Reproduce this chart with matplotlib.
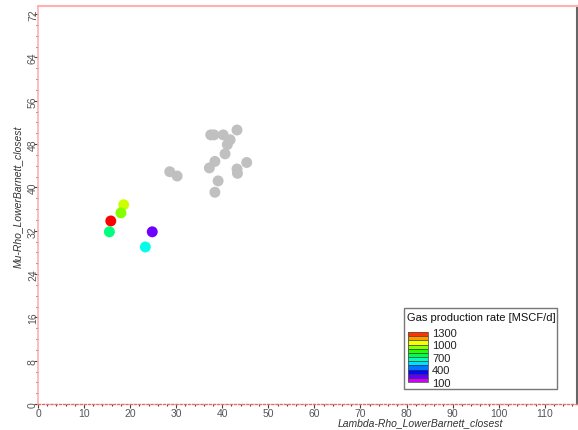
import numpy as np
import matplotlib
matplotlib.use("Agg")
import matplotlib.pyplot as plt
from matplotlib.colors import ListedColormap, Normalize, hsv_to_rgb
from matplotlib.ticker import MultipleLocator, AutoMinorLocator
from matplotlib.patches import Rectangle

plt.rcParams['font.family'] = ['Liberation Sans', 'DejaVu Sans']

# wells without production data (grey)
lam_grey = [28.6, 30.2, 37.5, 38.2, 40.2, 43.2, 41.7, 41.1, 40.6, 38.4, 37.2, 39.1, 38.4, 43.2, 43.3, 45.3]
mu_grey = [42.9, 42.1, 49.7, 49.7, 49.7, 50.6, 48.8, 47.9, 46.2, 44.8, 43.6, 41.2, 39.1, 43.4, 42.6, 44.6]

# wells with gas production rate
lam_prod = [18.6, 18.0, 15.8, 15.5, 24.8, 23.3]
mu_prod = [36.8, 35.3, 33.8, 31.8, 31.8, 29.0]
gas_rate = [1010, 940, 1300, 700, 240, 600]

bounds = np.arange(100, 1301, 100)
legend_ticks = [100, 400, 700, 1000, 1300]

# rainbow: magenta (low) -> red (high)
hues = np.linspace(300, 0, 256) / 360.0
rgb = hsv_to_rgb(np.column_stack([hues, np.ones(256), np.ones(256)]))
cmap = ListedColormap(rgb)
norm = Normalize(vmin=100, vmax=1300)

fig = plt.figure(figsize=(5.78, 4.31), dpi=100)
ax = fig.add_axes([38/578, 26/431, 539/578, 398/431])

ax.scatter(lam_grey, mu_grey, s=62, color='#c0c0c0', edgecolors='none', zorder=3)
ax.scatter(lam_prod, mu_prod, c=gas_rate, cmap=cmap, norm=norm, s=62, edgecolors='none', zorder=4)

ax.set_xlim(0, 117)
ax.set_ylim(0, 73.5)
ax.xaxis.set_major_locator(MultipleLocator(10))
ax.yaxis.set_major_locator(MultipleLocator(8))
ax.xaxis.set_minor_locator(AutoMinorLocator(5))
ax.yaxis.set_minor_locator(AutoMinorLocator(4))
ax.tick_params(which='major', direction='out', length=3, width=0.8, color='#444444',
               labelsize=7.5, labelcolor='#555555', pad=0)
ax.tick_params(axis='y', which='major', pad=-3)
ax.tick_params(which='minor', direction='out', length=1.5, width=0.8, color='#444444')
for lab in ax.get_yticklabels():
    lab.set_rotation(90)
    lab.set_va('center')

ax.spines['top'].set_color('#ffb0b0')
ax.spines['top'].set_linewidth(1.5)
ax.spines['left'].set_color('#ffb0b0')
ax.spines['left'].set_linewidth(1.2)
ax.spines['bottom'].set_color('#e07070')
ax.spines['bottom'].set_linestyle((0, (1.5, 1.5)))
ax.spines['bottom'].set_linewidth(1.0)
ax.spines['right'].set_color('#666666')
ax.spines['right'].set_linewidth(1.5)

fig.text(420/578, 3/431, 'Lambda-Rho_LowerBarnett_closest', fontsize=7.5, style='italic',
         color='#333333', ha='center', va='bottom')
fig.text(18/578, 1 - 197/431, 'Mu-Rho_LowerBarnett_closest', fontsize=7.5, style='italic',
         color='#333333', ha='center', va='center', rotation=90)

# legend box
fig.patches.append(Rectangle((404/578, 1 - 390/431), 153/578, 81/431, transform=fig.transFigure,
                             facecolor='white', edgecolor='#777777', linewidth=1.0, zorder=5))
fig.text(407/578, 1 - 318/431, 'Gas production rate [MSCF/d]', fontsize=8, color='#111111',
         ha='left', va='center', zorder=6)
cax = fig.add_axes([408/578, 1 - 383/431, 20/578, 50/431], zorder=7)
sm = plt.cm.ScalarMappable(cmap=cmap, norm=norm)
cb = fig.colorbar(sm, cax=cax, drawedges=True, boundaries=bounds, ticks=legend_ticks)
cb.outline.set_edgecolor('#555555')
cb.outline.set_linewidth(0.6)
cb.dividers.set_color('#333333')
cb.dividers.set_linewidth(0.5)
cax.tick_params(length=0, labelsize=8, labelcolor='#222222', pad=3)

fig.savefig('out.png', dpi=100)
